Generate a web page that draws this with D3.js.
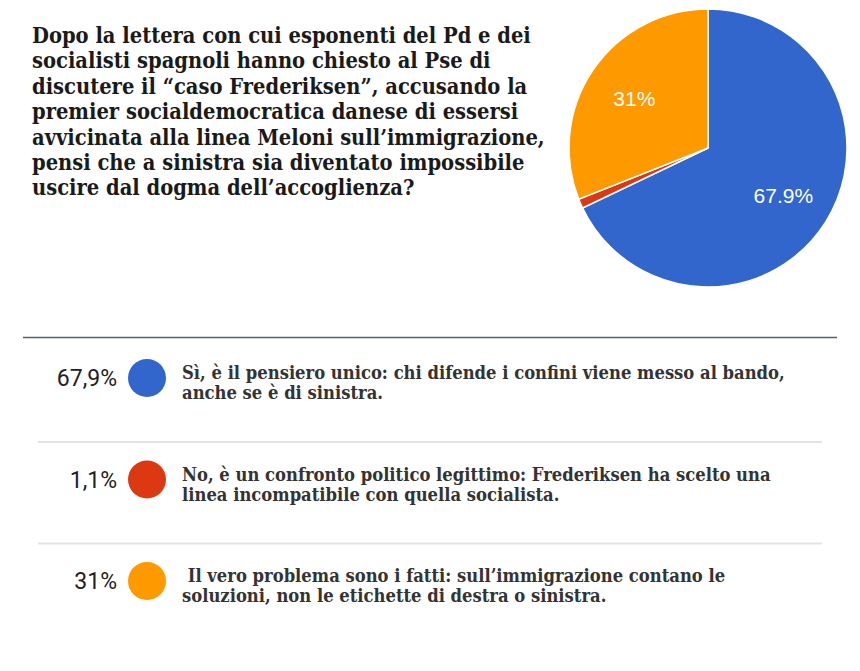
<!DOCTYPE html>
<html>
<head>
<meta charset="utf-8">
<script src="https://cdn.jsdelivr.net/npm/d3@7"></script>
<style>
  html, body { margin: 0; padding: 0; background: #fff; }
</style>
</head>
<body>
<div id="chart"></div>
<script>
// poll question, split as in the original
const questionLines = [
  'Dopo la lettera con cui esponenti del Pd e dei',
  'socialisti spagnoli hanno chiesto al Pse di',
  'discutere il “caso Frederiksen”, accusando la',
  'premier socialdemocratica danese di essersi',
  'avvicinata alla linea Meloni sull’immigrazione,',
  'pensi che a sinistra sia diventato impossibile',
  'uscire dal dogma dell’accoglienza?'
]
const answers = [
  ['Sì, è il pensiero unico: chi difende i confini viene messo al bando,', 'anche se è di sinistra.'],
  ['No, è un confronto politico legittimo: Frederiksen ha scelto una', 'linea incompatibile con quella socialista.'],
  [' Il vero problema sono i fatti: sull’immigrazione contano le', 'soluzioni, non le etichette di destra o sinistra.']
]
const shares = [67.9, 1.1, 31]
const colours = ['#3366cc', '#dc3912', '#ff9900']

const width = 860
const height = 671
const svg = d3.select('#chart').append('svg')
  .attr('width', width)
  .attr('height', height)

const serif = '"DejaVu Serif Condensed", "DejaVu Serif", serif'

//
// fit a text block's widest line to a target width
//
function fitSize (sel, target, start) {
  sel.style('font-size', start + 'px')
  const widest = d3.max(sel.nodes(), n => n.getComputedTextLength())
  const size = start * target / widest
  sel.style('font-size', size + 'px')
}

// question
const q = svg.append('g').selectAll('text')
  .data(questionLines)
  .enter().append('text')
  .attr('x', 32)
  .attr('y', (d, i) => 43 + i * 25.4)
  .style('font-family', serif)
  .style('font-weight', 'bold')
  .style('fill', '#1a1a1a')
  .text(d => d)
fitSize(q, 513, 20)

// pie
const cx = 708
const cy = 148
const radius = 139
const pie = d3.pie().sort(null).value(d => d)
const arcs = pie(shares)
const arc = d3.arc().innerRadius(0).outerRadius(radius)
const labelArc = d3.arc().innerRadius(89).outerRadius(89)
const pieG = svg.append('g').attr('transform', 'translate(' + cx + ',' + cy + ')')
pieG.selectAll('path')
  .data(arcs)
  .enter().append('path')
  .attr('d', arc)
  .attr('fill', (d, i) => colours[i])
  .attr('stroke', '#fff')
  .attr('stroke-width', 1.5)
pieG.selectAll('text')
  .data(arcs.filter(d => d.data > 5))
  .enter().append('text')
  .attr('transform', d => 'translate(' + labelArc.centroid(d) + ')')
  .attr('text-anchor', 'middle')
  .attr('dy', '0.36em')
  .style('font-family', '"Liberation Sans", Arial, sans-serif')
  .style('font-size', '21px')
  .style('fill', '#fff')
  .text(d => d3.format('.3~')(d.data) + '%')

// separator under the chart
svg.append('line')
  .attr('x1', 23).attr('x2', 837)
  .attr('y1', 337.5).attr('y2', 337.5)
  .attr('stroke', '#4f6575')
  .attr('stroke-width', 1.3)

// legend rows
const rowY = d3.scalePoint().domain(d3.range(answers.length)).range([378, 581])
const rows = svg.append('g').selectAll('g')
  .data(answers)
  .enter().append('g')
  .attr('transform', (d, i) => 'translate(0,' + rowY(i) + ')')

rows.append('text')
  .attr('x', 117)
  .attr('dy', '0.36em')
  .attr('text-anchor', 'end')
  .style('font-family', 'Roboto, sans-serif')
  .style('font-size', '23px')
  .style('fill', '#222')
  .text((d, i) => d3.format('.3~')(shares[i]).replace('.', ',') + '%')

rows.append('circle')
  .attr('cx', 147)
  .attr('r', 19)
  .attr('fill', (d, i) => colours[i])

const answerText = rows.selectAll('text.answer')
  .data(d => d)
  .enter().append('text')
  .attr('class', 'answer')
  .attr('x', 182)
  .attr('y', (d, i) => (i === 0 ? 1 : 21))
  .attr('xml:space', 'preserve')
  .style('white-space', 'pre')
  .style('font-family', serif)
  .style('font-weight', 'bold')
  .style('fill', '#333')
  .text(d => d)
fitSize(answerText, 603, 17)

// thin separators, sitting just above each following row
svg.append('g').selectAll('line')
  .data(d3.range(1, answers.length))
  .enter().append('line')
  .attr('x1', 38).attr('x2', 822)
  .attr('y1', i => rowY(i) - 37.5)
  .attr('y2', i => rowY(i) - 37.5)
  .attr('stroke', '#e3e3e3')
  .attr('stroke-width', 2)
</script>
</body>
</html>
